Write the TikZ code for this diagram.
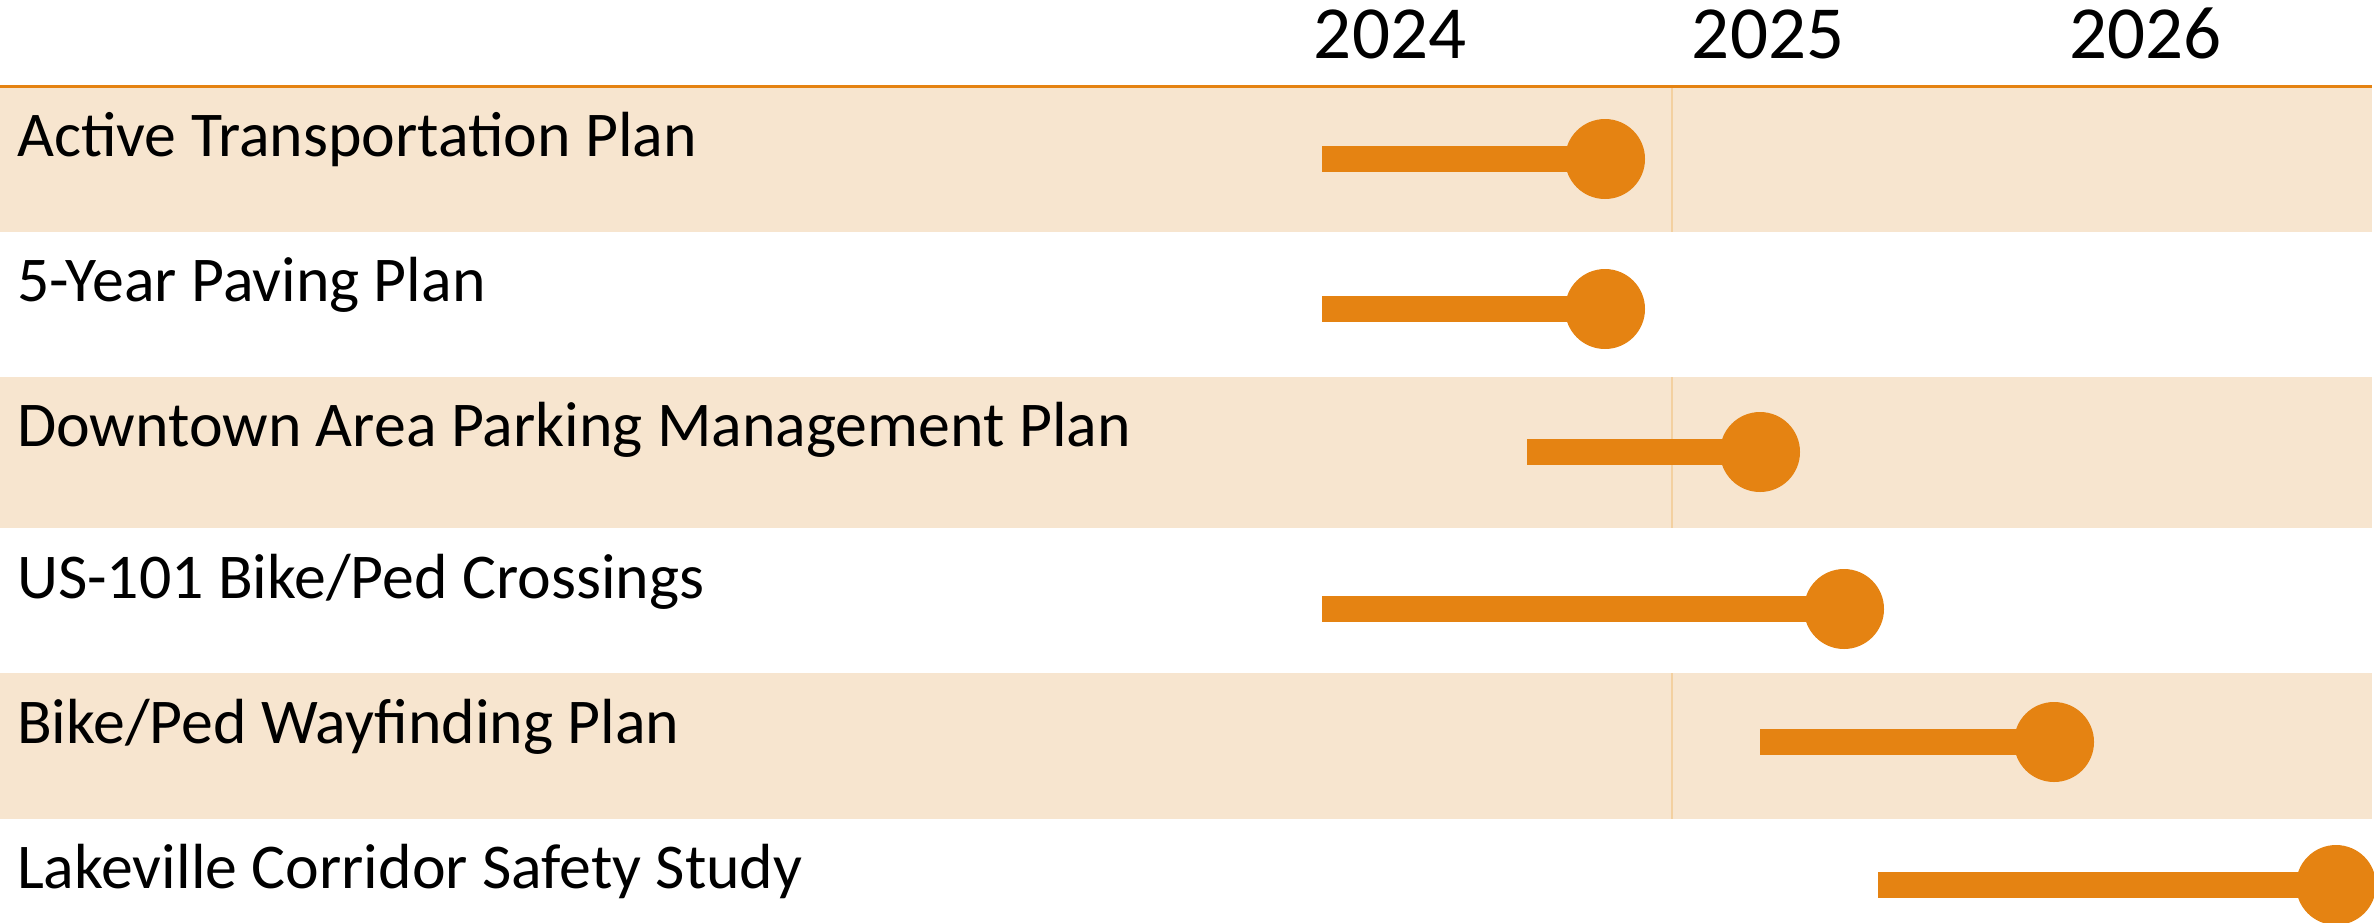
\documentclass[tikz,border=0pt]{standalone}
\usepackage{fontspec}
\setmainfont{Carlito}
\definecolor{barorange}{RGB}{229,131,18}
\definecolor{bandfill}{RGB}{247,229,207}
\definecolor{gridline}{RGB}{243,208,160}
\begin{document}
\begin{tikzpicture}[x=1pt,y=-1pt,
  band/.style={fill=bandfill,draw=none},
  rowlabel/.style={anchor=base west,inner sep=0pt,font=\fontsize{63.8}{76}\selectfont},
  yearlabel/.style={anchor=base,inner sep=0pt,font=\fontsize{75}{90}\selectfont},
  endpt/.style={circle,fill=barorange,draw=none,minimum size=80pt,inner sep=0pt},
  bar/.style={draw=barorange,line width=26pt,line cap=butt}]
\useasboundingbox (0,0) rectangle (2374,922);
\clip (0,0) rectangle (2374,922);
% bands
\fill[band] (0,86) rectangle (2372,232);
\fill[band] (0,377) rectangle (2372,528);
\fill[band] (0,673) rectangle (2372,819);
% year divider (visible in shaded rows)
\draw[gridline,line width=1.5pt] (1672,86) -- (1672,232);
\draw[gridline,line width=1.5pt] (1672,377) -- (1672,528);
\draw[gridline,line width=1.5pt] (1672,673) -- (1672,819);
% header rule
\draw[barorange,line width=3pt] (0,86) -- (2372,86);
% years
\node[yearlabel] (y2024) at (1390,58) {2024};
\node[yearlabel] (y2025) at (1768,58) {2025};
\node[yearlabel] (y2026) at (2145,58) {2026};
% row labels
\node[rowlabel] (l1) at (17,156) {Active Transportation Plan};
\node[rowlabel] (l2) at (17,301) {5-Year Paving Plan};
\node[rowlabel] (l3) at (17,446) {Downtown Area Parking Management Plan};
\node[rowlabel] (l4) at (17,598) {US-101 Bike/Ped Crossings};
\node[rowlabel] (l5) at (17,743) {Bike/Ped Wayfinding Plan};
\node[rowlabel] (l6) at (17,888) {Lakeville Corridor Safety Study};
% bar starts
\coordinate (s1) at (1322,159);
\coordinate (s2) at (1322,309);
\coordinate (s3) at (1527,452);
\coordinate (s4) at (1322,609);
\coordinate (s5) at (1760,742);
\coordinate (s6) at (1878,885);
% end points
\node[endpt] (e1) at (1605,159) {};
\node[endpt] (e2) at (1605,309) {};
\node[endpt] (e3) at (1760,452) {};
\node[endpt] (e4) at (1844,609) {};
\node[endpt] (e5) at (2054,742) {};
\node[endpt] (e6) at (2336,885) {};
% bars
\foreach \i in {1,...,6} {\draw[bar] (s\i) -- (e\i.center);}
\end{tikzpicture}
\end{document}
